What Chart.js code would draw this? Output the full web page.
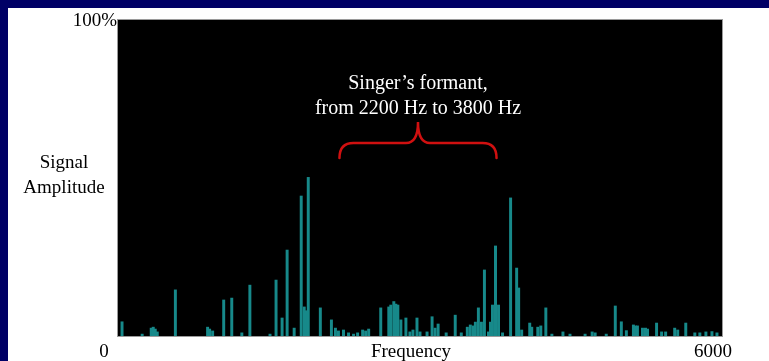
<!DOCTYPE html>
<html>
<head>
<meta charset="utf-8">
<script src="https://cdn.jsdelivr.net/npm/chart.js@4"></script>
<style>
  html, body { margin: 0; padding: 0; background: #000066; width: 769px; height: 361px; overflow: hidden; }
  #panel { position: absolute; left: 8px; top: 8px; width: 761px; height: 353px; background: #ffffff; }
</style>
</head>
<body>
<div id="panel"><canvas id="spectrum" width="761" height="353"></canvas></div>
<script>
// spectrum peaks (Hz, % of full amplitude)
const freqs = [
  40, 240, 330, 350, 370, 390, 570, 890, 910, 940,
  1050, 1130, 1230, 1310, 1510, 1570, 1630, 1680, 1750, 1820,
  1850, 1870, 1890, 2010, 2120, 2160, 2190, 2240, 2290, 2340,
  2380, 2430, 2460, 2490, 2610, 2690, 2710, 2740, 2760, 2780,
  2810, 2860, 2900, 2930, 2970, 3000, 3070, 3120, 3150, 3180,
  3260, 3350, 3410, 3470, 3500, 3530, 3550, 3580, 3610, 3640,
  3680, 3700, 3720, 3750, 3780, 3820, 3900, 3960, 3980, 4010,
  4090, 4110, 4170, 4200, 4250, 4310, 4420, 4490, 4640, 4710,
  4740, 4850, 4940, 5000, 5050, 5120, 5140, 5160, 5210, 5240,
  5260, 5350, 5400, 5440, 5530, 5560, 5640, 5730, 5780, 5840,
  5900, 5950
];
const amps = [
  4.5, 0.6, 2.5, 2.8, 2.2, 1.3, 14.6, 2.8, 2.2, 1.6,
  11.4, 12.0, 1.0, 16.1, 0.6, 17.7, 5.7, 27.2, 2.5, 44.3,
  9.2, 8.0, 50.2, 8.9, 5.1, 2.5, 1.6, 1.9, 1.0, 0.6,
  1.0, 1.9, 1.6, 2.2, 8.9, 9.2, 9.8, 10.9, 10.1, 9.8,
  5.1, 5.7, 1.3, 1.9, 5.7, 1.3, 1.3, 6.1, 2.5, 3.8,
  1.0, 6.6, 1.0, 2.8, 3.5, 3.2, 4.4, 8.9, 4.4, 20.9,
  1.3, 4.4, 9.8, 28.5, 9.8, 1.0, 43.7, 21.5, 15.2, 1.9,
  4.1, 2.8, 2.8, 3.2, 8.9, 0.6, 1.3, 0.6, 0.6, 1.3,
  1.0, 0.6, 9.5, 4.5, 1.7, 3.5, 3.2, 3.2, 2.5, 2.5,
  2.2, 4.1, 1.3, 1.3, 2.5, 1.9, 4.1, 1.0, 1.0, 1.3,
  1.4, 1.0
];

const xRange = [0, 6000];
const xEndLabels = ['0', '6000'];
const yTopLabel = '100%';
const xTitle = 'Frequency';
const yTitleLines = ['Signal', 'Amplitude'];
const noteLines = ['Singer\u2019s formant,', 'from 2200 Hz to 3800 Hz'];
const formantRange = [2200, 3800];

const serif = '"Liberation Serif", "DejaVu Serif", serif';

// black plot area behind the bars
const plotBackground = {
  id: 'plotBackground',
  beforeDraw(chart) {
    const { ctx, chartArea: a } = chart;
    ctx.save();
    ctx.fillStyle = '#000000';
    ctx.fillRect(a.left, a.top, a.right - a.left, a.bottom - a.top);
    ctx.strokeStyle = '#9a9a9a';
    ctx.lineWidth = 1;
    ctx.strokeRect(a.left - 0.5, a.top - 0.5, a.right - a.left + 1, a.bottom - a.top + 1);
    ctx.restore();
  }
};

// axis words, end labels, the formant note and its brace
const labels = {
  id: 'labels',
  afterDraw(chart) {
    const { ctx, chartArea: a, scales } = chart;
    const x = scales.x;
    ctx.save();
    ctx.fillStyle = '#000000';
    ctx.font = '19px ' + serif;
    ctx.textBaseline = 'alphabetic';

    ctx.textAlign = 'right';
    ctx.fillText(yTopLabel, a.left - 1, a.top + 6);

    ctx.textAlign = 'center';
    ctx.fillText(yTitleLines[0], a.left - 54, 160);
    ctx.fillText(yTitleLines[1], a.left - 54, 185);

    const base = a.bottom + 21;
    ctx.fillText(xEndLabels[0], a.left - 14, base);
    ctx.fillText(xTitle, (a.left + a.right) / 2 - 9, base);
    ctx.fillText(xEndLabels[1], a.right - 9, base);

    // note
    const x0 = x.getPixelForValue(formantRange[0]);
    const x1 = x.getPixelForValue(formantRange[1]) - 4;
    const xm = (x0 + x1) / 2;
    ctx.fillStyle = '#ffffff';
    ctx.font = '20px ' + serif;
    ctx.fillText(noteLines[0], xm, 81);
    ctx.fillText(noteLines[1], xm, 106);

    // curly brace
    const yEnd = 150, yMid = 135, yTip = 114;
    ctx.strokeStyle = '#d01010';
    ctx.lineWidth = 2.5;
    ctx.lineCap = 'round';
    ctx.beginPath();
    ctx.moveTo(x0, yEnd);
    ctx.quadraticCurveTo(x0, yMid, x0 + 14, yMid);
    ctx.lineTo(xm - 12, yMid);
    ctx.quadraticCurveTo(xm, yMid, xm, yTip);
    ctx.quadraticCurveTo(xm, yMid, xm + 12, yMid);
    ctx.lineTo(x1 - 14, yMid);
    ctx.quadraticCurveTo(x1, yMid, x1, yEnd);
    ctx.stroke();
    ctx.restore();
  }
};

new Chart(document.getElementById('spectrum'), {
  type: 'bar',
  data: {
    datasets: [{
      data: freqs.map((f, i) => ({ x: f, y: amps[i] })),
      backgroundColor: '#17898a',
      borderWidth: 0,
      barThickness: 2.3
    }]
  },
  options: {
    responsive: false,
    animation: false,
    layout: { padding: { left: 110, right: 47, top: 12, bottom: 25 } },
    plugins: { legend: { display: false }, tooltip: { enabled: false } },
    scales: {
      x: { type: 'linear', min: xRange[0], max: xRange[1], offset: false, display: false },
      y: { min: 0, max: 100, display: false }
    }
  },
  plugins: [plotBackground, labels]
});
</script>
</body>
</html>
